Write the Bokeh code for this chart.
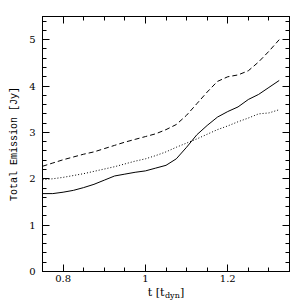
import numpy as np
from bokeh.plotting import figure
from bokeh.layouts import column
from bokeh.models import FixedTicker, LinearAxis, Range1d, Label
from bokeh.embed import file_html
from bokeh.resources import INLINE

t = [0.75, 0.775, 0.80, 0.825, 0.85, 0.875, 0.90, 0.925, 0.95, 0.975, 1.00, 1.025,
     1.05, 1.075, 1.10, 1.125, 1.15, 1.175, 1.20, 1.225, 1.25, 1.275, 1.30, 1.325]
solid = [1.68, 1.68, 1.71, 1.75, 1.81, 1.88, 1.97, 2.06, 2.10, 2.14, 2.17, 2.23,
         2.29, 2.43, 2.68, 2.95, 3.15, 3.33, 3.45, 3.55, 3.71, 3.82, 3.97, 4.12]
dashed = [2.27, 2.34, 2.41, 2.47, 2.53, 2.58, 2.65, 2.72, 2.79, 2.85, 2.91, 2.97,
          3.06, 3.17, 3.37, 3.62, 3.87, 4.10, 4.20, 4.24, 4.33, 4.52, 4.75, 5.00]
dotted = [1.98, 2.00, 2.03, 2.07, 2.11, 2.16, 2.21, 2.26, 2.32, 2.38, 2.43, 2.50,
          2.58, 2.68, 2.77, 2.86, 2.96, 3.06, 3.14, 3.23, 3.31, 3.40, 3.42, 3.49]

x_major = [0.8, 1.0, 1.2]
x_labels = {0.8: "0.8", 1.0: "1", 1.2: "1.2"}
x_minor = [0.75, 0.85, 0.9, 0.95, 1.05, 1.1, 1.15, 1.25, 1.3, 1.35]
y_major = [0, 1, 2, 3, 4, 5]
y_minor = [round(0.2 * i, 1) for i in range(28)]
y_title = "Total Emission [Jy]"
x_title = ["t [t", "dyn", "]"]

p = figure(width=300, height=286, output_backend="svg", toolbar_location=None,
           x_range=Range1d(0.75, 1.35), y_range=Range1d(0, 5.5),
           min_border_left=42, min_border_right=11, min_border_top=16, min_border_bottom=15)
p.grid.visible = False
p.outline_line_color = "black"
p.outline_line_width = 1
p.background_fill_color = "white"
p.border_fill_color = "white"

p.line(t, solid, line_color="black", line_width=1)
p.line(t, dashed, line_color="black", line_width=1, line_dash="5 3")
p.line(t, dotted, line_color="black", line_width=1, line_dash="1 2")

tick_font = "DejaVu Serif"
lab_font = "Liberation Mono"

def style(ax, labels=True):
    ax.axis_line_color = "black"
    ax.major_tick_in = 7
    ax.major_tick_out = 0
    ax.minor_tick_in = 4
    ax.minor_tick_out = 0
    ax.major_tick_line_color = "black"
    ax.minor_tick_line_color = "black"
    ax.major_label_text_font = tick_font
    ax.major_label_text_font_size = "10px"
    ax.major_label_text_color = "black"
    if not labels:
        ax.major_label_text_color = None
        ax.major_label_standoff = 0

xt = FixedTicker(ticks=x_major, minor_ticks=x_minor)
yt = FixedTicker(ticks=y_major, minor_ticks=y_minor)

xa = p.xaxis[0]
xa.ticker = xt
xa.major_label_overrides = x_labels
style(xa)
xa.major_label_standoff = 3

ya = p.yaxis[0]
ya.ticker = yt
style(ya)
ya.major_label_standoff = 7
ya.axis_label = y_title
ya.axis_label_text_font = lab_font
ya.axis_label_text_font_size = "10px"
ya.axis_label_text_font_style = "normal"
ya.axis_label_text_color = "black"
ya.axis_label_standoff = 6

xa2 = LinearAxis(ticker=xt)
style(xa2, labels=False)
xa2.major_label_overrides = {v: "" for v in x_major}
p.add_layout(xa2, "above")
ya2 = LinearAxis(ticker=yt)
style(ya2, labels=False)
ya2.major_label_overrides = {v: "" for v in y_major}
p.add_layout(ya2, "right")

# strip below the plot carrying the x-axis title with its subscript
f2 = figure(width=300, height=14, output_backend="svg", toolbar_location=None,
            x_axis_location=None, y_axis_location=None,
            x_range=Range1d(0, 1), y_range=Range1d(0, 1),
            min_border=0, min_border_left=0, min_border_right=0,
            min_border_top=0, min_border_bottom=0)
f2.grid.visible = False
f2.outline_line_color = None
f2.background_fill_color = "white"
f2.border_fill_color = "white"
xfont = "DejaVu Serif"
f2.add_layout(Label(x=122, y=8, x_units="screen", y_units="screen", text=x_title[0],
                    text_align="right", text_baseline="middle",
                    text_font=xfont, text_font_size="11px", text_color="black"))
f2.add_layout(Label(x=122.5, y=5, x_units="screen", y_units="screen", text=x_title[1],
                    text_align="left", text_baseline="middle",
                    text_font=xfont, text_font_size="8px", text_color="black"))
f2.add_layout(Label(x=137.5, y=8, x_units="screen", y_units="screen", text=x_title[2],
                    text_align="left", text_baseline="middle",
                    text_font=xfont, text_font_size="11px", text_color="black"))

open("out.html", "w").write(file_html(column(p, f2, spacing=0), INLINE))
